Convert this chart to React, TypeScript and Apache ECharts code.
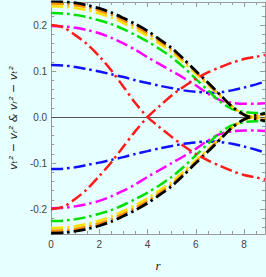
import React, { useEffect, useRef } from "react";
import * as echarts from "echarts";

const xs = [0, 0.5, 1, 1.5, 2, 2.5, 3, 3.5, 4, 4.5, 5, 5.5, 6, 6.5, 7, 7.5, 8, 8.5, 8.87];

const blackPos = [0.252, 0.251, 0.248, 0.243, 0.236, 0.227, 0.215, 0.202, 0.187, 0.169, 0.15, 0.126, 0.1, 0.075, 0.049, 0.023, 0.005, -0.004, -0.008];
const orangePos = [0.247, 0.246, 0.243, 0.238, 0.231, 0.222, 0.21, 0.197, 0.182, 0.165, 0.146, 0.123, 0.098, 0.073, 0.048, 0.023, 0.005, -0.003, -0.006];
const yellowPos = [0.241, 0.24, 0.237, 0.232, 0.225, 0.216, 0.204, 0.191, 0.176, 0.159, 0.141, 0.118, 0.094, 0.07, 0.046, 0.023, 0.006, -0.001, -0.004];
const greenPos = [0.226, 0.225, 0.222, 0.217, 0.21, 0.202, 0.191, 0.178, 0.164, 0.148, 0.13, 0.108, 0.083, 0.058, 0.034, 0.018, 0.011, 0.009, 0.009];
const magentaPos = [0.198, 0.197, 0.194, 0.189, 0.182, 0.172, 0.16, 0.146, 0.13, 0.115, 0.1, 0.085, 0.069, 0.051, 0.037, 0.031, 0.029, 0.029, 0.03];
const bluePos = [0.113, 0.112, 0.109, 0.104, 0.099, 0.093, 0.087, 0.08, 0.074, 0.068, 0.063, 0.058, 0.055, 0.053, 0.054, 0.058, 0.064, 0.071, 0.077];
const redPos = [0.2, 0.195, 0.178, 0.158, 0.132, 0.101, 0.066, 0.03, 0.0, -0.022, -0.043, -0.063, -0.08, -0.094, -0.106, -0.117, -0.126, -0.131, -0.136];

const blackNeg = [-0.252, -0.251, -0.248, -0.243, -0.236, -0.227, -0.215, -0.202, -0.187, -0.169, -0.15, -0.126, -0.1, -0.075, -0.049, -0.023, -0.005, 0.004, 0.008];
const orangeNeg = [-0.247, -0.246, -0.243, -0.238, -0.231, -0.222, -0.21, -0.197, -0.182, -0.165, -0.146, -0.123, -0.098, -0.073, -0.048, -0.023, -0.005, 0.003, 0.006];
const yellowNeg = [-0.241, -0.24, -0.237, -0.232, -0.225, -0.216, -0.204, -0.191, -0.176, -0.159, -0.141, -0.118, -0.094, -0.07, -0.046, -0.023, -0.006, 0.001, 0.004];
const greenNeg = [-0.226, -0.225, -0.222, -0.217, -0.21, -0.202, -0.191, -0.178, -0.164, -0.148, -0.13, -0.108, -0.083, -0.058, -0.034, -0.018, -0.011, -0.009, -0.009];
const magentaNeg = [-0.198, -0.197, -0.194, -0.189, -0.182, -0.172, -0.16, -0.146, -0.13, -0.115, -0.1, -0.085, -0.069, -0.051, -0.037, -0.031, -0.029, -0.029, -0.03];
const blueNeg = [-0.113, -0.112, -0.109, -0.104, -0.099, -0.093, -0.087, -0.08, -0.074, -0.068, -0.063, -0.058, -0.055, -0.053, -0.054, -0.058, -0.064, -0.071, -0.077];
const redNeg = [-0.2, -0.195, -0.178, -0.156, -0.128, -0.098, -0.064, -0.03, 0.0, 0.024, 0.047, 0.066, 0.083, 0.097, 0.108, 0.118, 0.126, 0.131, 0.135];

const xMajor = [0, 2, 4, 6, 8];
const xMinor = [0.5, 1, 1.5, 2.5, 3, 3.5, 4.5, 5, 5.5, 6.5, 7, 7.5, 8.5];
const yMajor = [-0.2, -0.1, 0, 0.1, 0.2];
const yMinor = [-0.24, -0.22, -0.18, -0.16, -0.14, -0.12, -0.08, -0.06, -0.04, -0.02, 0.02, 0.04, 0.06, 0.08, 0.12, 0.14, 0.16, 0.18, 0.22, 0.24];

const seriesDefs: [number[], string, number][] = [
  [bluePos, "#1010ff", 2.5],
  [blueNeg, "#1010ff", 2.5],
  [magentaPos, "#ff00ff", 2.5],
  [magentaNeg, "#ff00ff", 2.5],
  [greenPos, "#00e000", 2.5],
  [greenNeg, "#00e000", 2.5],
  [yellowPos, "#ffe000", 2.5],
  [yellowNeg, "#ffe000", 2.5],
  [orangePos, "#ff9000", 2.5],
  [orangeNeg, "#ff9000", 2.5],
  [blackPos, "#000000", 2.8],
  [blackNeg, "#000000", 2.8],
  [redPos, "#ff1a1a", 2.5],
  [redNeg, "#ff1a1a", 2.5],
];

const XMIN = 0;
const XMAX = 8.87;
const YMIN = -0.254;
const YMAX = 0.25;

export default function App() {
  const ref = useRef<HTMLDivElement>(null);
  useEffect(() => {
    document.body.style.margin = "0";
    document.body.style.background = "#e6ffff";
    const chart = echarts.init(ref.current!, null, { renderer: "svg" });
    const axisColor = "#9a9a9a";
    const labelStyle = { fontFamily: "Liberation Sans", fontSize: 10, color: "#444" };
    const xBase = (pos: "bottom" | "top", labels: boolean, ticks: number[], len: number, line: boolean) => ({
      type: "value",
      position: pos,
      min: XMIN,
      max: XMAX,
      axisLine: { show: line, onZero: false, lineStyle: { color: axisColor, width: 1 } },
      axisTick: { show: true, inside: true, length: len, customValues: ticks, lineStyle: { color: axisColor } },
      axisLabel: labels
        ? { show: true, customValues: xMajor, margin: 5, ...labelStyle, formatter: (v: number) => String(v) }
        : { show: false },
      splitLine: { show: false },
    });
    const yBase = (pos: "left" | "right", labels: boolean, ticks: number[], len: number, line: boolean) => ({
      type: "value",
      position: pos,
      min: YMIN,
      max: YMAX,
      axisLine: { show: line, onZero: false, lineStyle: { color: axisColor, width: 1 } },
      axisTick: { show: true, inside: true, length: len, customValues: ticks, lineStyle: { color: axisColor } },
      axisLabel: labels
        ? { show: true, customValues: yMajor, margin: 4, ...labelStyle, formatter: (v: number) => v.toFixed(1) }
        : { show: false },
      splitLine: { show: false },
    });
    const xAxes: any[] = [
      { ...xBase("bottom", true, xMajor, 5, true), name: "r", nameLocation: "middle", nameGap: 25,
        nameTextStyle: { fontFamily: "Liberation Serif", fontStyle: "italic", fontSize: 13, color: "#222" } },
      xBase("top", false, xMajor, 5, true),
      xBase("bottom", false, xMinor, 3, false),
      xBase("top", false, xMinor, 3, false),
    ];
    const yAxes: any[] = [
      { ...yBase("left", true, yMajor, 5, true), name: "vₜ² − vᵣ² & vᵣ² − vₜ²", nameLocation: "middle", nameGap: 22,
        nameTextStyle: { fontFamily: "DejaVu Sans", fontStyle: "italic", fontSize: 11, color: "#222" } },
      yBase("right", false, yMajor, 5, true),
      yBase("left", false, yMinor, 3, false),
      yBase("right", false, yMinor, 3, false),
    ];
    const series: any[] = seriesDefs.map(([vals, color, w], i) => ({
      type: "line",
      xAxisIndex: 0,
      yAxisIndex: 0,
      data: xs.map((x, j) => [x, vals[j]]),
      smooth: 0.3,
      showSymbol: false,
      symbol: "none",
      clip: true,
      lineStyle: { color, width: w, type: [12, 4, 2.5, 4], cap: "butt" },
      z: 3 + i,
      markLine: i === 0 ? {
        silent: true,
        symbol: "none",
        label: { show: false },
        lineStyle: { color: "#555", width: 1, type: "solid" },
        data: [{ yAxis: 0 }],
      } : undefined,
    }));
    chart.setOption({
      animation: false,
      backgroundColor: "#e6ffff",
      grid: { left: 34, right: 1, top: 2, bottom: 43, containLabel: false },
      xAxis: xAxes,
      yAxis: yAxes,
      series,
    });
    return () => chart.dispose();
  }, []);
  return <div ref={ref} style={{ width: 266, height: 277 }} />;
}
